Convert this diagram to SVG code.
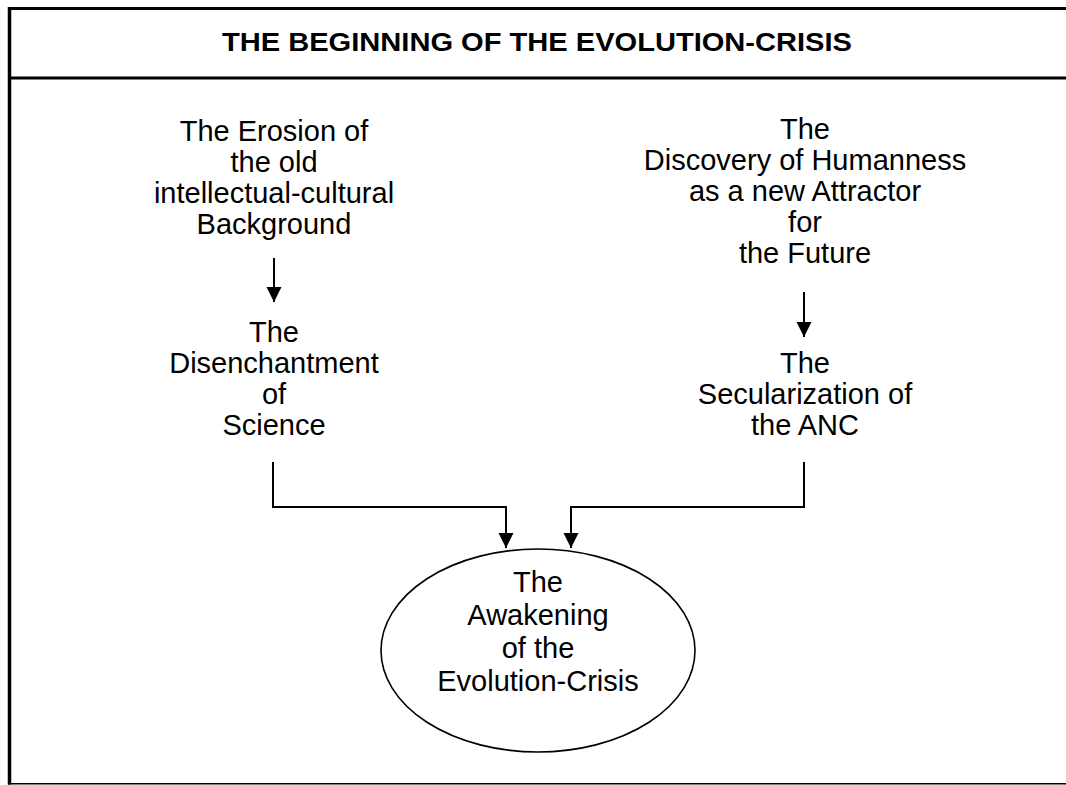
<svg xmlns="http://www.w3.org/2000/svg" width="1066" height="785" viewBox="0 0 1066 785">
<style>
.t{font-family:"Liberation Sans",Arial,sans-serif;font-size:29px;fill:#000;text-anchor:middle}
.title{font-family:"Liberation Sans",Arial,sans-serif;font-size:25.5px;font-weight:bold;fill:#000}
.c{fill:none;stroke:#000;stroke-width:2}
</style>
<defs>
<marker id="ah" markerUnits="userSpaceOnUse" markerWidth="16" markerHeight="16" viewBox="0 0 16 16" refX="15" refY="8" orient="auto">
<path d="M0,0.5 L15,8 L0,15.5 Z" fill="#000"/>
</marker>
</defs>
<rect x="0" y="0" width="1066" height="785" fill="#fff"/>
<g id="frame">
<line x1="8" y1="8.5" x2="1066" y2="8.5" stroke="#000" stroke-width="3"/>
<line x1="8" y1="78" x2="1066" y2="78" stroke="#000" stroke-width="3"/>
<line x1="9.5" y1="7" x2="9.5" y2="784.5" stroke="#000" stroke-width="3.5"/>
<line x1="8" y1="783.8" x2="1066" y2="783.8" stroke="#000" stroke-width="1.5"/>
</g>
<g id="title">
<text class="title" x="222" y="51" textLength="630" lengthAdjust="spacingAndGlyphs">THE BEGINNING OF THE EVOLUTION-CRISIS</text>
</g>
<g id="erosion">
<text class="t" x="274" y="141">The Erosion of</text>
<text class="t" x="274" y="172">the old</text>
<text class="t" x="274" y="203">intellectual-cultural</text>
<text class="t" x="274" y="234">Background</text>
</g>
<g id="disenchantment">
<text class="t" x="274" y="342">The</text>
<text class="t" x="274" y="373">Disenchantment</text>
<text class="t" x="274" y="404">of</text>
<text class="t" x="274" y="435">Science</text>
</g>
<g id="discovery">
<text class="t" x="805" y="139">The</text>
<text class="t" x="805" y="170">Discovery of Humanness</text>
<text class="t" x="805" y="201">as a new Attractor</text>
<text class="t" x="805" y="232">for</text>
<text class="t" x="805" y="263">the Future</text>
</g>
<g id="secularization">
<text class="t" x="805" y="373">The</text>
<text class="t" x="805" y="404">Secularization of</text>
<text class="t" x="805" y="435">the ANC</text>
</g>
<g id="awakening">
<ellipse cx="538" cy="650.5" rx="157" ry="101.5" fill="none" stroke="#000" stroke-width="1.6"/>
<text class="t" x="538" y="592">The</text>
<text class="t" x="538" y="625">Awakening</text>
<text class="t" x="538" y="658">of the</text>
<text class="t" x="538" y="691">Evolution-Crisis</text>
</g>
<g id="connectors">
<path class="c" d="M274,258 V302" marker-end="url(#ah)"/>
<path class="c" d="M804,292 V337" marker-end="url(#ah)"/>
<path class="c" d="M273,462 V507 H506 V548" marker-end="url(#ah)"/>
<path class="c" d="M804,462 V507 H571 V548" marker-end="url(#ah)"/>
</g>
</svg>
